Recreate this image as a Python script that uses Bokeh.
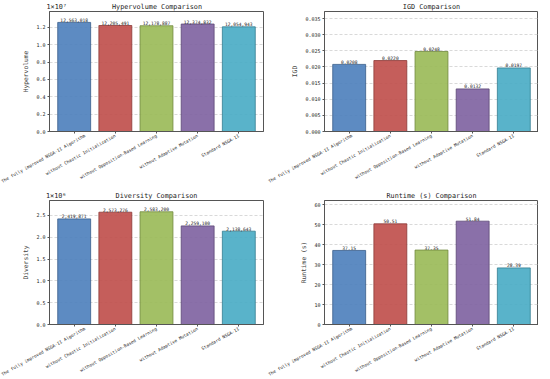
from bokeh.plotting import figure
from bokeh.layouts import column, row
from bokeh.models import FixedTicker, CustomJSTickFormatter, ColumnDataSource
from bokeh.embed import file_html
from bokeh.resources import INLINE
import math

categories = ["The fully improved NSGA-II Algorithm", "without Chaotic Initialization",
              "without Opposition-Based Learning", "without Adaptive Mutation", "Standard NSGA-II"]
hypervolume = [12563018, 12205491, 12178887, 12374832, 12054943]
igd = [0.0208, 0.0220, 0.0248, 0.0132, 0.0197]
diversity = [2419871, 2573276, 2583200, 2259100, 2138643]
runtime = [37.15, 50.51, 37.35, 51.84, 28.39]

hv_ticks = [0.0, 0.2, 0.4, 0.6, 0.8, 1.0, 1.2]
igd_ticks = [0.000, 0.005, 0.010, 0.015, 0.020, 0.025, 0.030, 0.035]
div_ticks = [0.0, 0.5, 1.0, 1.5, 2.0, 2.5]
rt_ticks = [0, 10, 20, 30, 40, 50, 60]

colors = ["#4F81BD", "#C0504D", "#9BBB59", "#8064A2", "#4BACC6"]
edges = ["#385D8A", "#8C3836", "#71893F", "#5C4776", "#357D91"]
FONT = "DejaVu Sans Mono"
NBSP = "\u00a0"


def make_panel(title, ylabel, values, ticks, scale, ymax, labels, tick_fmt, offset_text,
               fh, bl, br, bt, bb):
    p = figure(frame_width=214, frame_height=fh, output_backend="svg", toolbar_location=None,
               x_range=(-0.6, 4.6), y_range=(0, ymax), tools="",
               min_border_left=bl, min_border_right=br, min_border_top=bt, min_border_bottom=bb)
    xs = list(range(len(values)))
    yv = [v / scale for v in values]
    src = ColumnDataSource(dict(x=xs, top=yv, color=colors, edge=edges, label=labels))
    p.vbar(x="x", top="top", width=0.8, bottom=0, fill_color="color", line_color="edge",
           fill_alpha=0.92, line_width=0.8, source=src)
    p.text(x="x", y="top", text="label", source=src, text_align="center", text_baseline="bottom",
           text_font_size="4.6px", text_font={"value": FONT}, text_color="#222222", y_offset=-0.5)
    if offset_text:
        # offset (scale) text on the left, title centred over the frame, on one line
        n_pad, off = offset_text[1], offset_text[2]
        p.title.text = offset_text[0] + NBSP * n_pad + title
        p.title.align = "left"
        p.title.offset = off
    else:
        p.title.text = title
        p.title.align = "center"
        p.title.offset = 0
    p.title.text_font = FONT
    p.title.text_font_size = "6.8px"
    p.title.text_font_style = "normal"
    p.title.text_color = "#222222"
    p.title.standoff = 1

    p.yaxis.ticker = FixedTicker(ticks=ticks)
    p.yaxis.formatter = CustomJSTickFormatter(code="return tick.toFixed(%d);" % tick_fmt)
    p.yaxis.axis_label = ylabel
    p.yaxis.axis_label_text_font = FONT
    p.yaxis.axis_label_text_font_size = "6.3px"
    p.yaxis.axis_label_text_font_style = "normal"
    p.yaxis.axis_label_standoff = 4
    p.xaxis.ticker = FixedTicker(ticks=xs)
    p.xaxis.major_label_overrides = {i: c for i, c in enumerate(categories)}
    p.xaxis.major_label_orientation = math.radians(29)
    for ax in (p.xaxis, p.yaxis):
        ax.major_label_text_font = FONT
        ax.major_label_text_color = "#222222"
        ax.axis_line_color = "#555555"
        ax.major_tick_line_color = "#555555"
        ax.major_tick_out = 2
        ax.major_tick_in = 0
        ax.minor_tick_line_color = None
        ax.major_label_standoff = 2
    p.xaxis.major_label_text_font_size = "4.4px"
    p.yaxis.major_label_text_font_size = "5px"
    p.xgrid.grid_line_color = None
    p.ygrid.grid_line_color = "#c8c8c8"
    p.ygrid.grid_line_dash = "3 2"
    p.ygrid.grid_line_width = 0.7
    p.outline_line_color = "#555555"
    p.outline_line_width = 1
    return p


hv_labels = [f"{v:,}" for v in hypervolume]
igd_labels = [f"{v:.4f}" for v in igd]
div_labels = [f"{v:,}" for v in diversity]
rt_labels = [f"{v:.2f}" for v in runtime]

p1 = make_panel("Hypervolume Comparison", "Hypervolume", hypervolume, hv_ticks, 1e7,
                max(hypervolume) / 1e7 * 1.1, hv_labels, 1, ("1×10⁷", 11, -3),
                120, 49, 4, 11, 50)
p2 = make_panel("IGD Comparison", "IGD", igd, igd_ticks, 1.0,
                max(igd) * 1.5, igd_labels, 3, None, 120, 57, 0, 11, 50)
p3 = make_panel("Diversity Comparison", "Diversity", diversity, div_ticks, 1e6,
                max(diversity) / 1e6 * 1.1, div_labels, 1, ("1×10⁶", 12, -3.5),
                124, 49, 4, 11, 50)
p4 = make_panel("Runtime (s) Comparison", "Runtime (s)", runtime, rt_ticks, 1.0,
                max(runtime) * 1.2, rt_labels, 0, None, 124, 57, 0, 11, 50)

layout = column(row(p1, p2, spacing=0), row(p3, p4, spacing=0), spacing=0)
open("out.html", "w").write(file_html(layout, INLINE))
